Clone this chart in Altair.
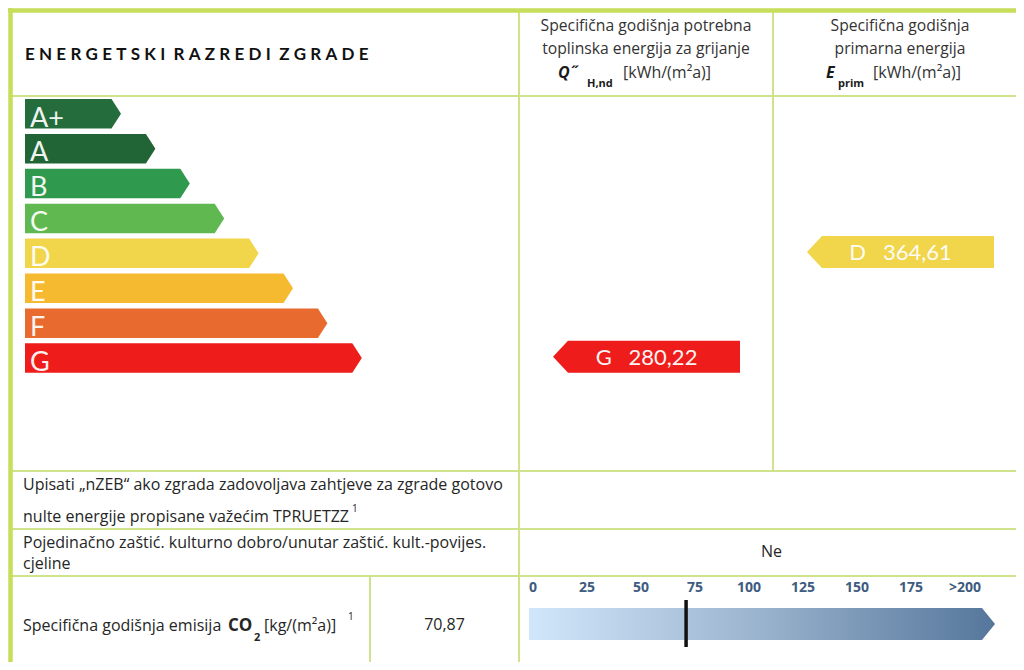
import altair as alt
import pandas as pd

# ---------------- data ----------------
classes = ["A+", "A", "B", "C", "D", "E", "F", "G"]
class_colors = ["#246c3c", "#216537", "#2f9a4e", "#60b950", "#f1d54b", "#f6ba31", "#e96a2f", "#ee1d1b"]

heat_class = "G"
heat_value = 280.22
prim_class = "D"
prim_value = 364.61

co2_value = 70.87
co2_ticks = [0, 25, 50, 75, 100, 125, 150, 175, 200]
co2_tick_labels = ["0", "25", "50", "75", "100", "125", "150", "175", ">200"]

protected_answer = "Ne"

title_words = ["ENERGETSKI", "RAZREDI", "ZGRADE"]
heat_header = ["Specifična godišnja potrebna", "toplinska energija za grijanje"]
prim_header = ["Specifična godišnja", "primarna energija"]
unit_text = "[kWh/(m²a)]"
nzeb_lines = ["Upisati „nZEB“ ako zgrada zadovoljava zahtjeve za zgrade gotovo",
              "nulte energije propisane važećim TPRUETZZ"]
protected_lines = ["Pojedinačno zaštić. kulturno dobro/unutar zaštić. kult.-povijes.", "cjeline"]
co2_label = "Specifična godišnja emisija"
co2_unit = "[kg/(m²a)]"

# ---------------- layout ----------------
W, H = 1008, 654
PX0, PY0 = 8, 8
XMAX, YMAX = PX0 + W, PY0 + H
C1, C2 = 519, 773
R_HEAD, R_NZEB, R_PROT, R_CO2 = 96, 471, 529, 576
C_CO2 = 370
FONT = "Open Sans"
GREEN_THICK = "#c6de5a"
GREEN_THIN = "#cfe38c"
TXT = "#262626"

XS = alt.Scale(domain=[PX0, XMAX], nice=False, zero=False)
YS = alt.Scale(domain=[PY0, YMAX], nice=False, zero=False, reverse=True)
CO2_PX0, CO2_PX200 = 533, 965
k = (CO2_PX200 - CO2_PX0) / 200.0
CO2S = alt.Scale(domain=[(PX0 - CO2_PX0) / k, (XMAX - CO2_PX0) / k], nice=False, zero=False)


def X(f="x"):
    return alt.X(f"{f}:Q", scale=XS, axis=None)


def Y(f="y"):
    return alt.Y(f"{f}:Q", scale=YS, axis=None, stack=None)


# grid lines
thick = pd.DataFrame([
    dict(x=PX0, x2=XMAX, y=10.5, y2=10.5),
    dict(x=10.5, x2=10.5, y=PY0, y2=YMAX),
])
thin = pd.DataFrame([
    dict(x=10, x2=XMAX, y=R_HEAD, y2=R_HEAD),
    dict(x=10, x2=XMAX, y=R_NZEB, y2=R_NZEB),
    dict(x=10, x2=XMAX, y=R_PROT, y2=R_PROT),
    dict(x=10, x2=XMAX, y=R_CO2, y2=R_CO2),
    dict(x=C1, x2=C1, y=10, y2=YMAX),
    dict(x=C2, x2=C2, y=10, y2=R_NZEB),
    dict(x=C_CO2, x2=C_CO2, y=R_CO2, y2=YMAX),
])


def rules(df, w, c):
    return alt.Chart(df).mark_rule(strokeWidth=w, color=c).encode(
        x=X(), x2="x2:Q", y=Y(), y2="y2:Q")


def shape_layer(points, fill, **kw):
    df = pd.DataFrame(points, columns=["x", "y", "y2"])
    return alt.Chart(df).mark_area(orient="vertical", interpolate="linear", color=fill, **kw).encode(
        x=X(), y=Y(), y2="y2:Q")


# class arrows
ROW0, ROW_STEP, ROW_H = 99, 34.9, 29.5
TIP0, TIP_STEP, TIP_D = 121, 34.4, 9.5
LEFT = 25
arrow_layers = []
letter_rows = []
for i, (c, col) in enumerate(zip(classes, class_colors)):
    top = ROW0 + i * ROW_STEP
    bot = top + ROW_H
    tip = TIP0 + i * TIP_STEP
    mid = (top + bot) / 2
    arrow_layers.append(shape_layer([(LEFT, top, bot), (tip - TIP_D, top, bot), (tip, mid, mid)], col))
    letter_rows.append(dict(x=LEFT + 5, y=bot - 2, t=c))


# result arrows (pointing left)
def result_arrow(cls, value, col_left):
    i = classes.index(cls)
    col = class_colors[i]
    top = ROW0 + i * ROW_STEP - 2.5
    bot = ROW0 + i * ROW_STEP + ROW_H
    mid = (top + bot) / 2
    tip, body, end = col_left + 34, col_left + 49, col_left + 221
    layer = shape_layer([(tip, mid, mid), (body, top, bot), (end, top, bot)], col)
    label = dict(x=(tip + end) / 2, y=mid + 1,
                 t=f"{cls}\u00a0\u00a0\u00a0{value:.2f}".replace(".", ","))
    return layer, label


h_layer, hl = result_arrow(heat_class, heat_value, C1)
p_layer, pl = result_arrow(prim_class, prim_value, C2)
arrow_layers += [h_layer, p_layer]


def text_layer(rows, **kw):
    df = pd.DataFrame(rows)
    base = dict(font=FONT, fontSize=16, color=TXT, baseline="middle", align="left")
    base.update(kw)
    return alt.Chart(df).mark_text(**base).encode(x=X(), y=Y(), text="t:N")


letters = text_layer(letter_rows, font="Lato", fontSize=27, color="white", baseline="alphabetic", opacity=0.93)
result_labels = text_layer([hl, pl], font="Lato", fontSize=22, color="white", align="center", opacity=0.95)

title_str = " \u2009\u2009".join("\u2009\u2009".join(w) for w in title_words)
title = text_layer([dict(x=25, y=55, t=title_str)], font="Lato", fontSize=17, fontWeight="bold", color="#111111")

hc2 = (C1 + C2) / 2
hc3 = (C2 + 1027) / 2
headers = text_layer([
    dict(x=hc2, y=26, t=heat_header[0]), dict(x=hc2, y=49, t=heat_header[1]),
    dict(x=hc3, y=26, t=prim_header[0]), dict(x=hc3, y=49, t=prim_header[1]),
], fontSize=15.7, align="center", color="#333333")
sym = text_layer([dict(x=558, y=73, t="Q\u02dd"), dict(x=826, y=73, t="E")],
                 fontSize=16, fontWeight="bold", fontStyle="italic", color="#1a1a1a")
subs = text_layer([dict(x=587, y=84, t="H,nd"), dict(x=838, y=84, t="prim")],
                  fontSize=11, fontWeight="bold", color="#1a1a1a")
units = text_layer([dict(x=623, y=73, t=unit_text), dict(x=873, y=73, t=unit_text)], color="#333333")

body = text_layer([
    dict(x=23, y=485, t=nzeb_lines[0]), dict(x=23, y=517, t=nzeb_lines[1]),
    dict(x=23, y=543, t=protected_lines[0]), dict(x=23, y=564, t=protected_lines[1]),
    dict(x=23, y=626, t=co2_label),
])
co_bold = text_layer([dict(x=228, y=626, t="CO")], fontSize=17, fontWeight="bold")
co_sub = text_layer([dict(x=254, y=638, t="2")], fontSize=11, fontWeight="bold")
co_unit = text_layer([dict(x=264, y=626, t=co2_unit)])
sups = text_layer([dict(x=352, y=509, t="1"), dict(x=348, y=617, t="1")], fontSize=10)
centered = text_layer([
    dict(x=(C_CO2 + C1) / 2, y=625, t=f"{co2_value:.2f}".replace(".", ",")),
    dict(x=(C1 + 1024) / 2, y=552, t=protected_answer),
], align="center")

# CO2 scale
grad = alt.Gradient(
    gradient="linear",
    stops=[alt.GradientStop(color="#d0e7fb", offset=0),
           alt.GradientStop(color="#a0b8d2", offset=0.45),
           alt.GradientStop(color="#55769b", offset=1)],
    x1=0, x2=1, y1=0, y2=0)
co2_bar = shape_layer([(529, 608, 640), (982, 608, 640), (995, 624, 624)], grad)

tick_df = pd.DataFrame(dict(v=co2_ticks, t=co2_tick_labels, y=[588] * len(co2_ticks)))
co2_labels = alt.Chart(tick_df).mark_text(font=FONT, fontSize=14, fontWeight="bold", color="#3e5b80",
                                          baseline="middle", align="center").encode(
    x=alt.X("v:Q", scale=CO2S, axis=None), y=Y(), text="t:N")
marker = alt.Chart(pd.DataFrame(dict(v=[co2_value], y=[600], y2=[647]))).mark_rule(
    color="#111111", strokeWidth=3.5).encode(x=alt.X("v:Q", scale=CO2S, axis=None), y=Y(), y2="y2:Q")

chart = alt.layer(
    rules(thin, 2, GREEN_THIN), rules(thick, 4.5, GREEN_THICK),
    *arrow_layers, letters, result_labels, title, headers, sym, subs, units,
    body, co_bold, co_sub, co_unit, sups, centered,
    co2_bar, co2_labels, marker,
).resolve_scale(x="independent").properties(
    width=W, height=H, padding=0, autosize=alt.AutoSizeParams(type="none"), background="white"
).configure_view(stroke=None)

chart.save("out.html", embed_options={"renderer": "svg", "actions": False})
